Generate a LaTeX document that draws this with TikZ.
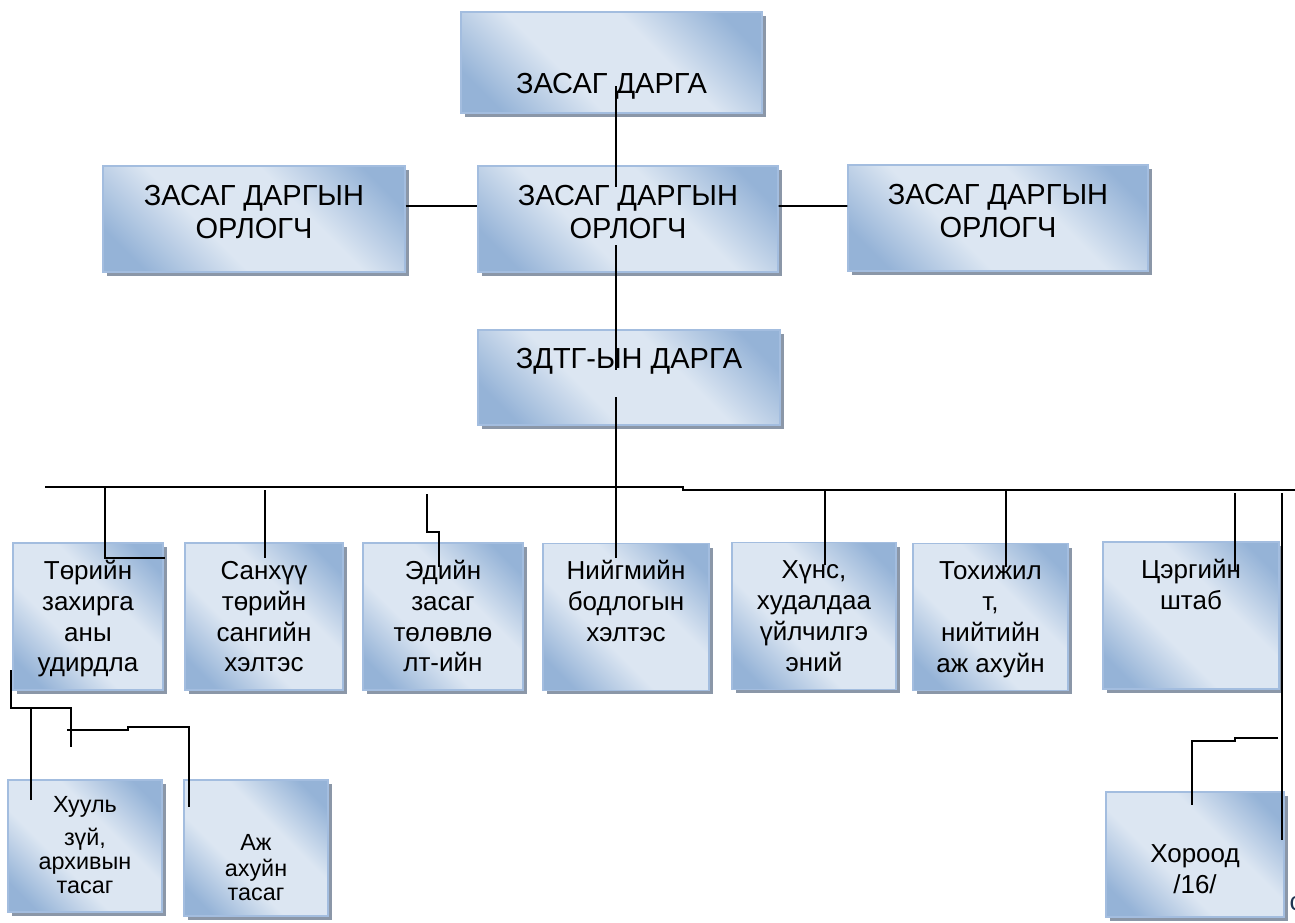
\documentclass[tikz,border=0pt]{standalone}
\usepackage{fontspec}
\setmainfont{Liberation Sans}
\usetikzlibrary{shadows}
\definecolor{bxlight}{HTML}{DCE6F2}
\definecolor{bxdark}{HTML}{95B3D7}
\definecolor{bxline}{HTML}{A3BDDF}
\definecolor{bxshadow}{HTML}{8B97A8}
\definecolor{cutink}{HTML}{1F3552}
\pgfdeclareverticalshading{boxshade}{100bp}{color(0bp)=(bxdark); color(22bp)=(bxdark); color(40bp)=(bxlight); color(60bp)=(bxlight); color(78bp)=(bxdark); color(100bp)=(bxdark)}
\begin{document}
\begin{tikzpicture}[x=0.02cm,y=-0.02cm]
\tikzstyle{box}=[draw=bxline,line width=0.8pt,shading=boxshade,shading angle=-45,drop shadow={shadow xshift=0.08cm,shadow yshift=-0.08cm,fill=bxshadow,opacity=1},inner sep=0pt,align=center]
\tikzstyle{big}=[font=\fontsize{16.5}{18.7}\selectfont]
\tikzstyle{mid}=[font=\fontsize{14.8}{17.6}\selectfont]
\tikzstyle{small}=[font=\fontsize{13.3}{13.6}\selectfont]
\tikzstyle{wire}=[line width=1.1pt]
\useasboundingbox (0,0) rectangle (1295,923);
\node[box,big,minimum width=6.02cm,text height=1.64cm,text depth=0.38cm] (zd) at (611.5,62.5) {ЗАСАГ ДАРГА};
\node[box,big,minimum width=6.04cm,text height=1.44cm,text depth=0.68cm] (or1) at (254,219) {ЗАСАГ ДАРГЫН\\ОРЛОГЧ};
\node[box,big,minimum width=6.0cm,text height=1.44cm,text depth=0.68cm] (or2) at (628,219) {ЗАСАГ ДАРГЫН\\ОРЛОГЧ};
\node[box,big,minimum width=6.0cm,text height=1.44cm,text depth=0.68cm] (or3) at (998,218) {ЗАСАГ ДАРГЫН\\ОРЛОГЧ};
\node[box,big,minimum width=6.04cm,text height=0.76cm,text depth=1.14cm] (dg) at (629,377.5) {ЗДТГ-ЫН ДАРГА};
\node[box,mid,minimum width=3.0cm,text height=2.58cm,text depth=0.36cm] (tz) at (88,616.5) {Төрийн\\захирга\\аны\\удирдла};
\node[box,mid,minimum width=3.16cm,text height=2.58cm,text depth=0.36cm] (sn) at (264,616.5) {Санхүү\\төрийн\\сангийн\\хэлтэс};
\node[box,mid,minimum width=3.2cm,text height=2.58cm,text depth=0.36cm] (ed) at (443,616.5) {Эдийн\\засаг\\төлөвлө\\лт-ийн};
\node[box,mid,minimum width=3.32cm,text height=1.96cm,text depth=0.98cm] (nb) at (626,617) {Нийгмийн\\бодлогын\\хэлтэс};
\node[box,mid,minimum width=3.28cm,text height=2.58cm,text depth=0.36cm] (hh) at (814,616) {Хүнс,\\худалдаа\\үйлчилгэ\\эний};
\node[box,mid,minimum width=3.1cm,text height=2.58cm,text depth=0.36cm] (th) at (990.5,617) {Тохижил\\т,\\нийтийн\\аж ахуйн};
\node[box,mid,minimum width=3.52cm,text height=1.34cm,text depth=1.6cm] (ts) at (1191,615.5) {Цэргийн\\штаб};
\node[box,small,minimum width=3.08cm,text height=2.26cm,text depth=0.38cm] (hz) at (85,846) {Хууль\\[5pt]зүй,\\архивын\\тасаг};
\node[box,small,minimum width=2.88cm,text height=2.4cm,text depth=0.32cm] (aa) at (256,848) {Аж\\[1pt]ахуйн\\тасаг};
\node[box,mid,minimum width=3.56cm,text height=2.02cm,text depth=0.48cm] (hr) at (1195,854.5) {Хороод\\/16/};
\node[inner sep=0pt,text=cutink,font=\fontsize{14.8}{17.6}\selectfont] (cut) at (1296,904) {с};
\coordinate (zdin) at (616,86);
\coordinate (orin) at (616,187);
\coordinate (orout) at (616,245);
\coordinate (dgin) at (616,370);
\coordinate (dgout) at (616,397);
\coordinate (nbin) at (616,558);
\coordinate (busl) at (45,487);
\coordinate (busr) at (1295,490);
\coordinate (tzup) at (105,487);
\coordinate (tzin) at (165,558);
\coordinate (snup) at (265,490);
\coordinate (snin) at (265,558);
\coordinate (edup) at (427,494);
\coordinate (edin) at (439,567);
\coordinate (hhup) at (825,490);
\coordinate (hhin) at (825,565);
\coordinate (thup) at (1006,490);
\coordinate (thin) at (1006,567);
\coordinate (tsup) at (1235,493);
\coordinate (tsin) at (1235,570);
\coordinate (rtup) at (1282,493);
\coordinate (rtdn) at (1282,840);
\coordinate (hrup) at (1278,738);
\coordinate (hrin) at (1192,805);
\coordinate (lfup) at (11,670);
\coordinate (lfdn) at (71,747);
\coordinate (hzup) at (31,708);
\coordinate (hzin) at (31,800);
\coordinate (aaup) at (67,730);
\coordinate (aain) at (189,807);
\draw[wire] (zdin) -- (orin);
\draw[wire] ([yshift=0.26cm]or1.east) -- ([yshift=0.26cm]or2.west);
\draw[wire] ([yshift=0.26cm]or2.east) -- ([yshift=0.24cm]or3.west);
\draw[wire] (orout) -- (dgin);
\draw[wire] (dgout) -- (nbin);
\draw[wire] (busl) -- ++(638,0) -- ++(0,3) -- (busr);
\draw[wire] (tzup) |- (tzin);
\draw[wire] (snup) -- (snin);
\draw[wire] (edup) -- ++(0,38) -| (edin);
\draw[wire] (hhup) -- (hhin);
\draw[wire] (thup) -- (thin);
\draw[wire] (tsup) -- (tsin);
\draw[wire] (rtup) -- (rtdn);
\draw[wire] (hrup) -- ++(-43,0) -- ++(0,3) -| (hrin);
\draw[wire] (lfup) -- ++(0,38) -| (lfdn);
\draw[wire] (hzup) -- (hzin);
\draw[wire] (aaup) -- ++(61,0) -- ++(0,-3) -| (aain);
\end{tikzpicture}
\end{document}
